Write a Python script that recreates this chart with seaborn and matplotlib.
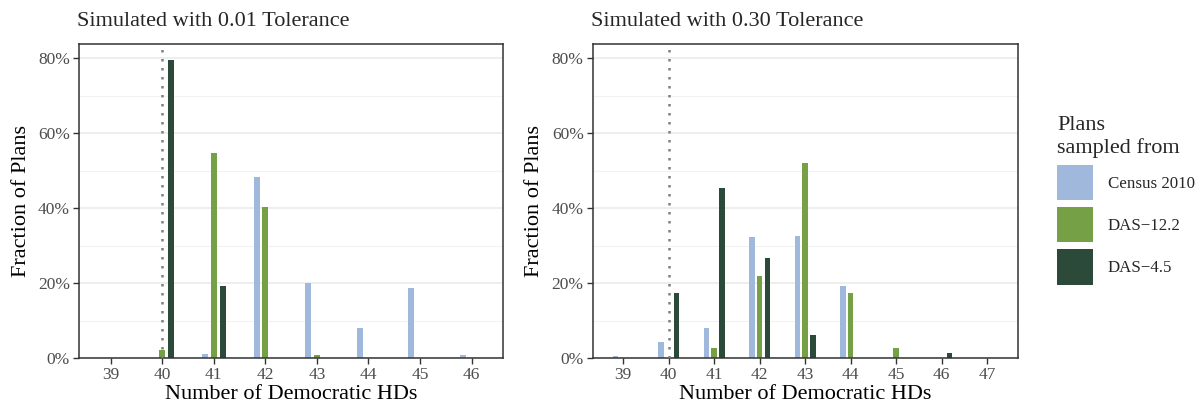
import numpy as np
import pandas as pd
import seaborn as sns
import matplotlib
matplotlib.use("Agg")
import matplotlib.pyplot as plt
from matplotlib.patches import Patch
from matplotlib.ticker import PercentFormatter, FixedLocator

# ---------------- data (percent of plans) ----------------
groups = ["Census 2010", "DAS\u221212.2", "DAS\u22124.5"]
colors = ["#a0b8dc", "#76a045", "#2b4a3a"]

hd_left = [39, 40, 41, 42, 43, 44, 45, 46]
census_left = [0.0, 0.0, 1.1, 48.4, 20.0, 8.0, 18.7, 1.0]
das122_left = [0.0, 2.2, 54.7, 40.3, 0.9, 0.0, 0.0, 0.0]
das45_left = [0.0, 79.5, 19.3, 0.0, 0.0, 0.0, 0.0, 0.0]

hd_right = [39, 40, 41, 42, 43, 44, 45, 46, 47]
census_right = [0.6, 4.4, 8.0, 32.3, 32.5, 19.3, 0.0, 0.0, 0.0]
das122_right = [0.0, 0.0, 2.7, 21.9, 52.1, 17.5, 2.7, 0.0, 0.0]
das45_right = [0.0, 17.5, 45.4, 26.7, 6.1, 0.0, 0.0, 1.4, 0.0]

titles = ["Simulated with 0.01 Tolerance", "Simulated with 0.30 Tolerance"]
enacted_hd = 40


def long_frame(hd, a, b, c):
    rows = []
    for g, vals in zip(groups, [a, b, c]):
        for x, v in zip(hd, vals):
            rows.append({"hd": x, "pct": v, "group": g})
    return pd.DataFrame(rows)


df_left = long_frame(hd_left, census_left, das122_left, das45_left)
df_right = long_frame(hd_right, census_right, das122_right, das45_right)

# ---------------- style ----------------
sns.set_theme(style="white")
plt.rcParams["font.family"] = ["Liberation Serif", "DejaVu Serif"]

W, H = 1200, 404
fig = plt.figure(figsize=(W / 100, H / 100), dpi=100)

ax_bottom = 1 - 358.3 / H
ax_height = (358.3 - 44) / H
axes_px = [(79, 503.3), (592.7, 1017.7)]
frames = [df_left, df_right]
hds = [hd_left, hd_right]

for i, (x0, x1) in enumerate(axes_px):
    ax = fig.add_axes([x0 / W, ax_bottom, (x1 - x0) / W, ax_height])
    sns.barplot(data=frames[i], x="hd", y="pct", hue="group", hue_order=groups,
                palette=colors, native_scale=True, width=0.51, gap=0.3,
                errorbar=None, linewidth=0, saturation=1, legend=False, ax=ax)
    ax.axvline(enacted_hd, color="#808080", linestyle=(0, (1, 2.6)), linewidth=1.8, zorder=5)

    xs = hds[i]
    pad = 0.615 if i == 0 else 0.67
    ax.set_xlim(xs[0] - pad, xs[-1] + pad)
    ax.set_ylim(0, 83.8)
    ax.xaxis.set_major_locator(FixedLocator(xs))
    ax.set_xticklabels([str(x) for x in xs])
    ax.yaxis.set_major_locator(FixedLocator([0, 20, 40, 60, 80]))
    ax.yaxis.set_minor_locator(FixedLocator([10, 30, 50, 70]))
    ax.yaxis.set_major_formatter(PercentFormatter(100, decimals=0))

    ax.set_axisbelow(True)
    ax.grid(False)
    ax.yaxis.grid(True, which="major", color="#ebebeb", linewidth=1.2)
    ax.yaxis.grid(True, which="minor", color="#f2f2f2", linewidth=0.8)

    for s in ax.spines.values():
        s.set_visible(True)
        s.set_color("#333333")
        s.set_linewidth(1.1)

    ax.tick_params(axis="both", which="major", length=4, width=1.0, color="#333333",
                   labelsize=12.5, labelcolor="#4d4d4d", pad=2.5,
                   bottom=True, left=True)
    ax.tick_params(axis="y", which="minor", length=0, left=False)

    ax.set_xlabel("Number of Democratic HDs", fontsize=16, color="black", va="top")
    ax.xaxis.set_label_coords(0.5, -0.086)
    ax.set_ylabel("Fraction of Plans", fontsize=16, color="black")
    ax.yaxis.set_label_coords(-0.113 if i == 0 else -0.115, 0.5)

    fig.text((x0 - 2) / W, 1 - 21 / H, titles[i], fontsize=16, ha="left", va="center")

handles = [Patch(facecolor=c, edgecolor="none") for c in colors]
leg = fig.legend(handles, groups, loc="upper left",
                 bbox_to_anchor=(1054 / W, 1 - 113 / H),
                 frameon=False, fontsize=12.2, title="Plans\nsampled from",
                 title_fontsize=16, handlelength=2.13, handleheight=2.83,
                 labelspacing=0.4, handletextpad=0.85, borderpad=0.2,
                 borderaxespad=0, alignment="left")

fig.savefig("out.png", dpi=100, facecolor="white")
